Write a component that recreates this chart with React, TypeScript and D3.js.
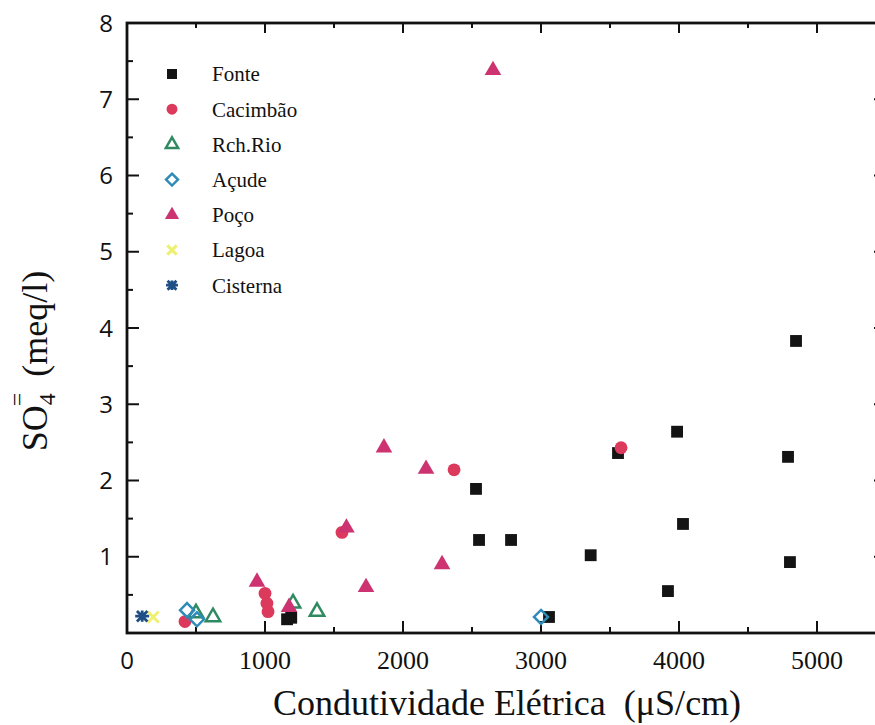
import React, { useEffect } from 'react'
import { scaleLinear, symbol, symbolSquare, symbolCircle, symbolTriangle, range } from 'd3'

// Series: [conductivity µS/cm, SO4 meq/l]
const fonte = [
  [2529, 1.89], [2551, 1.22], [2783, 1.22], [3360, 1.02], [3558, 2.36],
  [3986, 2.64], [4029, 1.43], [3920, 0.55], [4790, 2.31], [4804, 0.93],
  [4848, 3.83], [3058, 0.21], [1160, 0.18], [1190, 0.2],
]
const cacimbao = [
  [2370, 2.14], [3580, 2.43], [1558, 1.32], [1000, 0.52], [1014, 0.39],
  [1022, 0.28], [420, 0.15],
]
const rchRio = [[500, 0.26], [623, 0.21], [1203, 0.39], [1377, 0.28]]
const acude = [[435, 0.3], [507, 0.18], [3000, 0.21]]
const poco = [
  [2652, 7.38], [1862, 2.43], [2167, 2.15], [1590, 1.38], [2283, 0.9],
  [1732, 0.6], [942, 0.67], [1174, 0.34],
]
const lagoa = [[190, 0.21]]
const cisterna = [[110, 0.22]]

const xTicks = [0, 1000, 2000, 3000, 4000, 5000]
const yTicks = [1, 2, 3, 4, 5, 6, 7, 8]
const legendNames = ['Fonte', 'Cacimbão', 'Rch.Rio', 'Açude', 'Poço', 'Lagoa', 'Cisterna']

const W = 875
const H = 725
const left = 127
const top = 23
const bottom = 633

const x = scaleLinear().domain([0, 5500]).range([left, left + 5.5 * 138])
const y = scaleLinear().domain([0, 8]).range([bottom, top])

const series = [
  { name: 'Fonte', data: fonte, kind: 'square', color: '#141414' },
  { name: 'Cacimbão', data: cacimbao, kind: 'circle', color: '#dc3a5c' },
  { name: 'Rch.Rio', data: rchRio, kind: 'openTri', color: '#2f8a62' },
  { name: 'Açude', data: acude, kind: 'diamond', color: '#2e8bb8' },
  { name: 'Poço', data: poco, kind: 'triangle', color: '#cc3370' },
  { name: 'Lagoa', data: lagoa, kind: 'cross', color: '#eef070' },
  { name: 'Cisterna', data: cisterna, kind: 'star', color: '#1d4f86' },
]

const Marker = ({ kind, color, cx, cy, s = 1 }) => {
  const t = `translate(${cx},${cy})`
  if (kind === 'square')
    return <path transform={t} d={symbol(symbolSquare, 140 * s * s)()} fill={color} />
  if (kind === 'circle')
    return <path transform={t} d={symbol(symbolCircle, 130 * s * s)()} fill={color} />
  if (kind === 'triangle')
    return <path transform={t} d={symbol(symbolTriangle, 120 * s * s)()} fill={color} />
  if (kind === 'openTri')
    return <path transform={t} d={symbol(symbolTriangle, 90 * s * s)()} fill="none" stroke={color} strokeWidth={2.5} />
  if (kind === 'diamond') {
    const r = 7 * s
    return <path transform={t} d={`M0,${-r}L${r},0L0,${r}L${-r},0Z`} fill="none" stroke={color} strokeWidth={2.5} />
  }
  if (kind === 'cross') {
    const r = 5.5 * s
    return <path transform={t} d={`M${-r},${-r}L${r},${r}M${r},${-r}L${-r},${r}`} stroke={color} strokeWidth={3} />
  }
  const r = 7 * s
  return (
    <path transform={t}
      d={`M${-r},0L${r},0M${-r * 0.75},${-r * 0.75}L${r * 0.75},${r * 0.75}M${r * 0.75},${-r * 0.75}L${-r * 0.75},${r * 0.75}M0,${-r * 0.8}L0,${r * 0.8}`}
      stroke={color} strokeWidth={2.8} />
  )
}

export default function App() {
  useEffect(() => {
    document.body.style.margin = '0'
  }, [])

  const right = x(5500)
  const serif = 'Liberation Serif'
  const sans = 'Open Sans'
  const xMinor = range(500, 5500, 1000)
  const yMinor = range(0.5, 8, 1)

  return (
    <svg width={W} height={H} style={{ display: 'block', background: '#fff' }}>
      {/* frame */}
      <rect x={left} y={top} width={right - left} height={bottom - top} fill="none" stroke="#111" strokeWidth={2.8} />

      {/* x ticks bottom and top */}
      {xTicks.slice(1).map(v => (
        <g key={'xt' + v}>
          <line x1={x(v)} x2={x(v)} y1={bottom} y2={bottom - 12} stroke="#111" strokeWidth={2} />
          <line x1={x(v)} x2={x(v)} y1={top} y2={top + 10} stroke="#111" strokeWidth={2} />
        </g>
      ))}
      {xMinor.map(v => (
        <g key={'xm' + v}>
          <line x1={x(v)} x2={x(v)} y1={bottom} y2={bottom - 6} stroke="#111" strokeWidth={2} />
          <line x1={x(v)} x2={x(v)} y1={top} y2={top + 5} stroke="#111" strokeWidth={2} />
        </g>
      ))}
      {/* y ticks left and right */}
      {yTicks.slice(0, -1).map(v => (
        <g key={'yt' + v}>
          <line x1={left} x2={left + 12} y1={y(v)} y2={y(v)} stroke="#111" strokeWidth={2} />
          <line x1={right} x2={right - 12} y1={y(v)} y2={y(v)} stroke="#111" strokeWidth={2} />
        </g>
      ))}
      {yMinor.map(v => (
        <g key={'ym' + v}>
          <line x1={left} x2={left + 6} y1={y(v)} y2={y(v)} stroke="#111" strokeWidth={2} />
          <line x1={right} x2={right - 6} y1={y(v)} y2={y(v)} stroke="#111" strokeWidth={2} />
        </g>
      ))}

      {/* tick labels */}
      {xTicks.map(v => (
        <text key={'xl' + v} x={x(v)} y={bottom + 36} textAnchor="middle"
          fontFamily={v === 0 ? sans : serif} fontSize={v === 0 ? 24 : 26} fill="#111">{v}</text>
      ))}
      {yTicks.map(v => (
        <text key={'yl' + v} x={left - 14} y={y(v)} dy="0.36em" textAnchor="end"
          fontFamily={sans} fontSize={24} fill="#111">{v}</text>
      ))}

      {/* axis titles */}
      <text x={507} y={715} textAnchor="middle" fontFamily={serif} fontSize={36} fill="#111">
        <tspan>Condutividade Elétrica</tspan>
        <tspan dx={18}>(μS/cm)</tspan>
      </text>
      <g transform="translate(47,361) rotate(-90)">
        <text x={0} y={0} textAnchor="middle" fontFamily={serif} fontSize={36} fill="#111">
          <tspan>SO</tspan>
          <tspan fontSize={24} dy={8}>4</tspan>
          <tspan fontSize={24} dx={-13} dy={-30}>=</tspan>
          <tspan dy={22} dx={16}>(meq/l)</tspan>
        </text>
      </g>

      {/* points */}
      {series.map(s => (
        <g key={s.name}>
          {s.data.map((d, i) => (
            <Marker key={i} kind={s.kind} color={s.color} cx={x(d[0])} cy={y(d[1])} />
          ))}
        </g>
      ))}

      {/* legend */}
      {legendNames.map((n, i) => {
        const s = series.find(q => q.name === n)
        const ly = 74 + i * 35.2
        return (
          <g key={'lg' + n}>
            <Marker kind={s.kind} color={s.color} cx={172} cy={ly} s={0.85} />
            <text x={212} y={ly} dy="0.35em" fontFamily={serif} fontSize={21} fill="#111">{n}</text>
          </g>
        )
      })}
    </svg>
  )
}
